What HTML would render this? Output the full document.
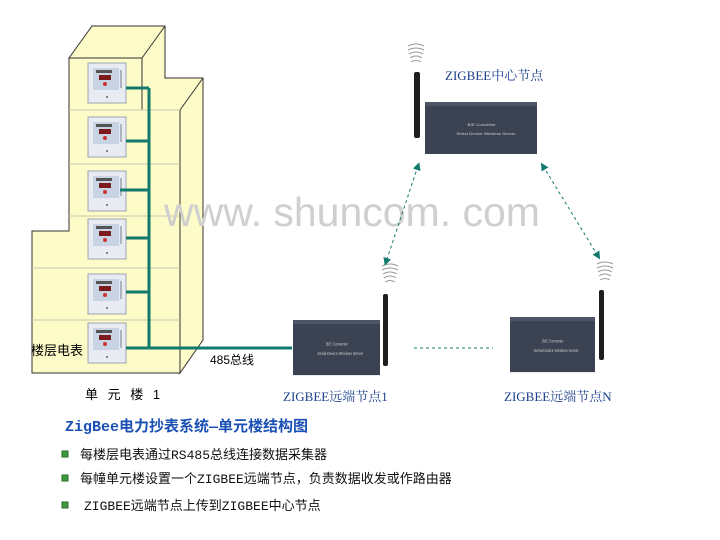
<!DOCTYPE html>
<html><head><meta charset="utf-8"><style>
body{margin:0;background:#fff;}
svg{display:block;font-family:"Liberation Serif","Noto Serif CJK SC","Noto Sans CJK SC",serif;}
</style></head><body>
<svg width="720" height="540" viewBox="0 0 720 540" xmlns="http://www.w3.org/2000/svg">
<defs>
<marker id="ah" markerWidth="8" markerHeight="8" refX="4" refY="4" orient="auto-start-reverse" markerUnits="userSpaceOnUse"><path d="M0,0 L8,4 L0,8 z" fill="#127a6c"/></marker>
<g id="meter">
<rect x="0" y="0" width="38" height="40" fill="#e8ecf2" stroke="#9aa4b4" stroke-width="1"/>
<rect x="5" y="5" width="26" height="22" fill="#c8d4e4"/>
<rect x="8" y="7" width="16" height="3" fill="#555"/>
<rect x="11" y="12" width="12" height="5" fill="#7a1a1a"/>
<circle cx="17" cy="21" r="2" fill="#c33"/>
<line x1="33" y1="7" x2="33" y2="25" stroke="#778" />
<circle cx="19" cy="34" r="1" fill="#666"/>
</g>
<g id="dev">
<rect x="0" y="0" width="100" height="52" fill="#3b4252"/>
<rect x="0" y="0" width="100" height="4" fill="#4c5466"/>
<text x="38" y="24" font-size="4" fill="#ccc" font-family="Liberation Sans">BIE Converter</text>
<text x="28" y="33" font-size="4" fill="#ccc" font-family="Liberation Sans">Serial Device Wireless Server</text>
</g>
<g id="waves" fill="none" stroke="#999" stroke-width="1">
<path d="M-8,2 Q0,-2 8,2"/><path d="M-8,6 Q0,2 8,6"/><path d="M-7,10 Q0,6 7,10"/><path d="M-6,14 Q0,10 6,14"/><path d="M-5,18 Q0,15 5,18"/>
</g>
</defs>

<g fill="#fdfbc8" stroke="#333" stroke-width="1">
<polygon points="69,58 92,26 165,26 165,78 203,78 203,340 180,373 180,110 142,110 142,58"/>
<polygon points="32,231 69,231 69,58 142,58 142,110 180,110 180,373 32,373"/>
</g>
<g stroke="#333" fill="none">
<line x1="142" y1="58" x2="165" y2="26"/><line x1="180" y1="110" x2="203" y2="78"/>
</g>
<g stroke="#c8c8b0" stroke-width="1">
<line x1="69" y1="110" x2="180" y2="110"/><line x1="69" y1="164" x2="180" y2="164"/>
<line x1="69" y1="216" x2="180" y2="216"/><line x1="32" y1="268" x2="180" y2="268"/>
<line x1="32" y1="320" x2="180" y2="320"/>
</g>
<use href="#meter" x="88" y="63"/><use href="#meter" x="88" y="117"/>
<use href="#meter" x="88" y="171"/><use href="#meter" x="88" y="219"/>
<use href="#meter" x="88" y="274"/><use href="#meter" x="88" y="323"/>
<g stroke="#127a6c" stroke-width="3" fill="none">
<line x1="149" y1="88" x2="149" y2="348"/>
<line x1="126" y1="88" x2="149" y2="88"/><line x1="126" y1="141" x2="149" y2="141"/>
<line x1="120" y1="190" x2="149" y2="190"/><line x1="126" y1="238" x2="149" y2="238"/>
<line x1="126" y1="292" x2="149" y2="292"/><line x1="126" y1="348" x2="292" y2="348"/>
</g>
<text x="31" y="355" font-size="13" font-family="Liberation Sans,Noto Sans CJK SC,sans-serif">楼层电表</text>
<text x="210" y="364" font-size="12" font-family="Liberation Sans,Noto Sans CJK SC,sans-serif">485总线</text>
<text x="85" y="399" font-size="13" font-family="Liberation Sans,Noto Sans CJK SC,sans-serif" letter-spacing="3">单 元 楼 1</text>

<text x="164" y="226" font-size="41" fill="#cfcfcf" font-family="Liberation Sans,sans-serif">www. shuncom. com</text>

<use href="#waves" x="416" y="44"/>
<rect x="414" y="72" width="6" height="66" fill="#1e1e1e" rx="2"/>
<use href="#dev" x="425" y="102" transform="translate(425 102) scale(1.12 1) translate(-425 -102)"/>
<text x="445" y="80" font-size="13" fill="#1a3f8a">ZIGBEE中心节点</text>

<use href="#waves" x="390" y="264"/>
<use href="#dev" x="293" y="320" transform="translate(293 320) scale(0.87 1.06) translate(-293 -320)"/>
<rect x="383" y="294" width="5" height="72" fill="#1e1e1e" rx="2"/>
<text x="283" y="401" font-size="13" fill="#1a3f8a">ZIGBEE远端节点1</text>

<use href="#waves" x="605" y="262"/>
<use href="#dev" x="510" y="317" transform="translate(510 317) scale(0.85 1.06) translate(-510 -317)"/>
<rect x="599" y="290" width="5" height="70" fill="#1e1e1e" rx="2"/>
<text x="504" y="401" font-size="13" fill="#1a3f8a">ZIGBEE远端节点N</text>

<g stroke="#127a6c" stroke-width="1" stroke-dasharray="3,3" fill="none">
<line x1="418" y1="166" x2="386" y2="262" marker-start="url(#ah)" marker-end="url(#ah)"/>
<line x1="543" y1="166" x2="598" y2="256" marker-start="url(#ah)" marker-end="url(#ah)"/>
<line x1="414" y1="348" x2="493" y2="348"/>
</g>

<text x="65" y="431" font-size="15" font-weight="bold" fill="#1a50b4" font-family="Liberation Mono,Noto Sans CJK SC,monospace">ZigBee电力抄表系统—单元楼结构图</text>
<g fill="#3a9a3a" stroke="#2a6a2a" stroke-width="1">
<rect x="62" y="451" width="6" height="6"/><rect x="62" y="475" width="6" height="6"/><rect x="62" y="502" width="6" height="6"/>
</g>
<g font-size="13" fill="#111" font-family="Liberation Mono,Noto Sans CJK SC,monospace">
<text x="80" y="459">每楼层电表通过RS485总线连接数据采集器</text>
<text x="80" y="483">每幢单元楼设置一个ZIGBEE远端节点，负责数据收发或作路由器</text>
<text x="84" y="510">ZIGBEE远端节点上传到ZIGBEE中心节点</text>
</g>
</svg>
</body></html>
